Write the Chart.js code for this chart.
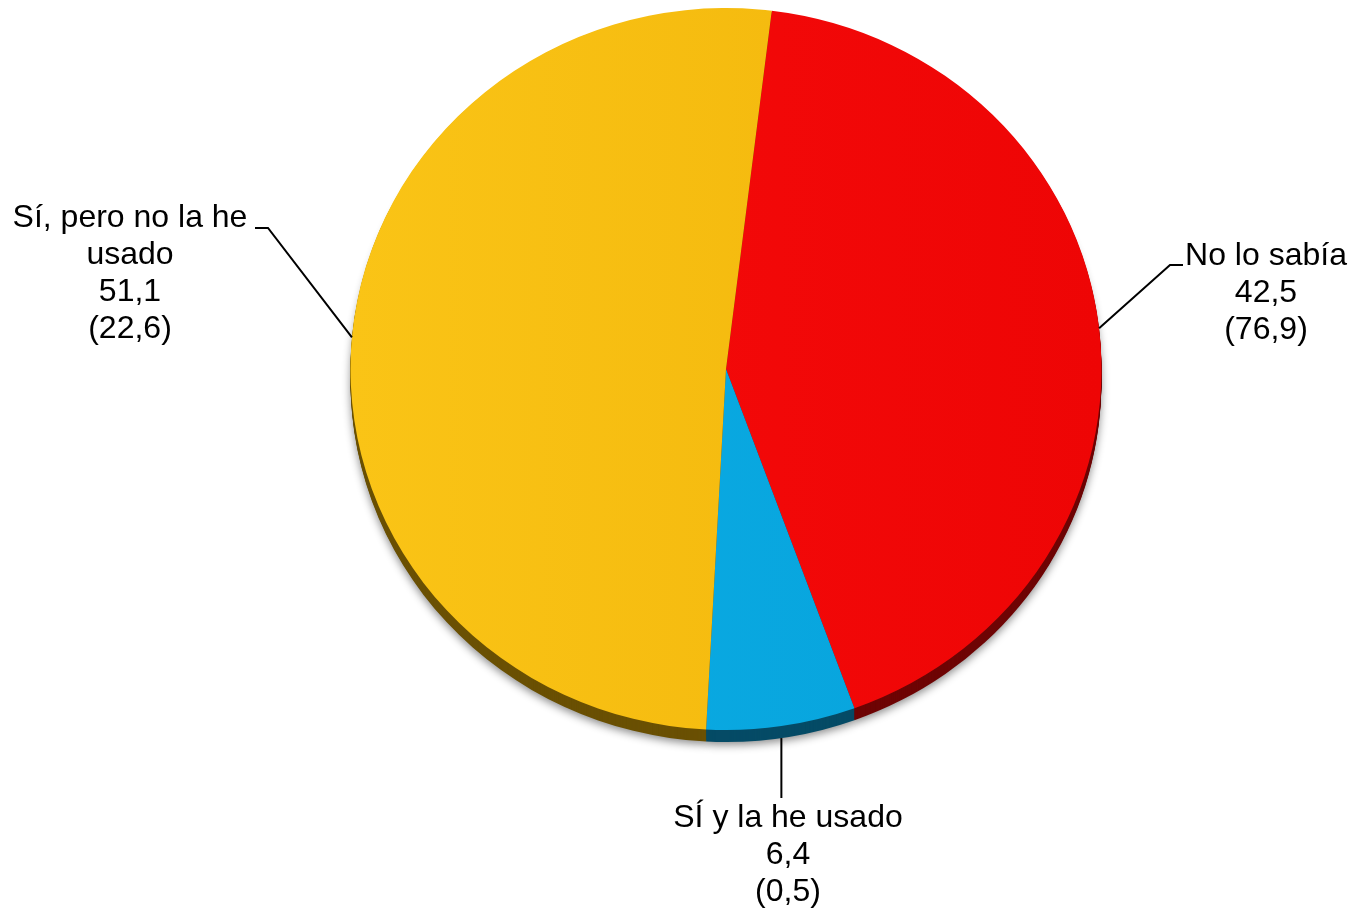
<!DOCTYPE html>
<html>
<head>
<meta charset="utf-8">
<script src="https://cdn.jsdelivr.net/npm/chart.js@4/dist/chart.umd.min.js"></script>
<style>
  html, body { margin: 0; padding: 0; background: #fff; }
  #wrap { width: 1353px; height: 908px; position: relative; }
</style>
</head>
<body>
<div id="wrap"><canvas id="pie"></canvas></div>
<script>
const CATEGORIES = ['No lo sabía', 'SÍ y la he usado', 'Sí, pero no la he usado'];
const LABEL_LINES = [['No lo sabía'], ['SÍ y la he usado'], ['Sí, pero no la he', 'usado']];
const VALUES = [42.5, 6.4, 51.1];
const PREV_VALUES = [76.9, 0.5, 22.6];

const TOP_COLORS = [['#f70c0c', '#ee0505'], ['#0badE6', '#07a2da'], ['#fac416', '#f1b40a']];
const SIDE_COLORS = ['#6e0404', '#054b66', '#6a5003'];

const fmt = (v) => v.toFixed(1).replace('.', ',');

const X_STRETCH = 375.5 / 361;
const DEPTH = 12;

function sliceFill(ctx) {
  const i = ctx.dataIndex ?? 0;
  const area = ctx.chart.chartArea;
  if (!area) return TOP_COLORS[i][0];
  const cx = (area.left + area.right) / 2;
  const r = (area.bottom - area.top) / 2;
  const g = ctx.chart.ctx.createLinearGradient(cx - r, 0, cx + r, 0);
  g.addColorStop(0, TOP_COLORS[i][0]);
  g.addColorStop(1, TOP_COLORS[i][1]);
  return g;
}

const ellipsePlugin = {
  id: 'ellipse3d',
  beforeDatasetsDraw(chart) {
    const ctx = chart.ctx;
    const arcs = chart.getDatasetMeta(0).data;
    const { x: cx, y: cy } = arcs[0];
    ctx.save();
    ctx.translate(cx, cy);
    ctx.scale(X_STRETCH, 1);
    ctx.translate(-cx, -cy);

    // side band of the tilted disc
    for (let d = DEPTH; d >= 1; d -= 1) {
      ctx.save();
      if (d === DEPTH) {
        ctx.shadowColor = 'rgba(0,0,0,0.45)';
        ctx.shadowBlur = 8;
        ctx.shadowOffsetY = 3;
      }
      arcs.forEach((arc, i) => {
        ctx.beginPath();
        ctx.moveTo(arc.x, arc.y + d);
        ctx.arc(arc.x, arc.y + d, arc.outerRadius, arc.startAngle, arc.endAngle);
        ctx.closePath();
        ctx.fillStyle = SIDE_COLORS[i];
        ctx.fill();
      });
      ctx.restore();
    }
  },
  afterDatasetsDraw(chart) {
    chart.ctx.restore();
  },
};

const labelPlugin = {
  id: 'outLabels',
  afterDraw(chart) {
    const ctx = chart.ctx;
    const arcs = chart.getDatasetMeta(0).data;
    // label block centre x, first line y, and leader elbow
    const place = [
      { x: 1266, y: 256, elbow: [[1170, 265], [1183, 265]] },
      { x: 788, y: 818, elbow: null },
      { x: 130, y: 218, elbow: [[268, 228], [255, 228]] },
    ];
    ctx.save();
    ctx.font = '32px "Liberation Sans", Arial, sans-serif';
    ctx.fillStyle = '#000';
    ctx.textAlign = 'center';
    ctx.textBaseline = 'middle';
    ctx.strokeStyle = '#000';
    ctx.lineWidth = 2;

    arcs.forEach((arc, i) => {
      const mid = (arc.startAngle + arc.endAngle) / 2;
      let ax = arc.x + Math.cos(mid) * arc.outerRadius * X_STRETCH;
      let ay = arc.y + Math.sin(mid) * arc.outerRadius;
      const p = place[i];
      const lines = [...LABEL_LINES[i], fmt(VALUES[i]), '(' + fmt(PREV_VALUES[i]) + ')'];
      ctx.beginPath();
      if (p.elbow) {
        ctx.moveTo(ax, ay);
        ctx.lineTo(p.elbow[0][0], p.elbow[0][1]);
        ctx.lineTo(p.elbow[1][0], p.elbow[1][1]);
      } else {
        ay += DEPTH;
        ctx.moveTo(ax, ay);
        ctx.lineTo(ax, p.y - 20);
      }
      ctx.stroke();
      lines.forEach((t, k) => ctx.fillText(t, p.x, p.y + k * 37));
    });
    ctx.restore();
  },
};

new Chart(document.getElementById('pie'), {
  type: 'pie',
  data: {
    labels: CATEGORIES,
    datasets: [{
      data: VALUES,
      backgroundColor: sliceFill,
      borderWidth: 0,
      hoverOffset: 0,
    }],
  },
  options: {
    responsive: true,
    maintainAspectRatio: false,
    animation: false,
    rotation: 7,
    layout: { padding: { top: 8, bottom: 178, left: 365, right: 266 } },
    plugins: {
      legend: { display: false },
      tooltip: { enabled: false },
    },
  },
  plugins: [ellipsePlugin, labelPlugin],
});
</script>
</body>
</html>
